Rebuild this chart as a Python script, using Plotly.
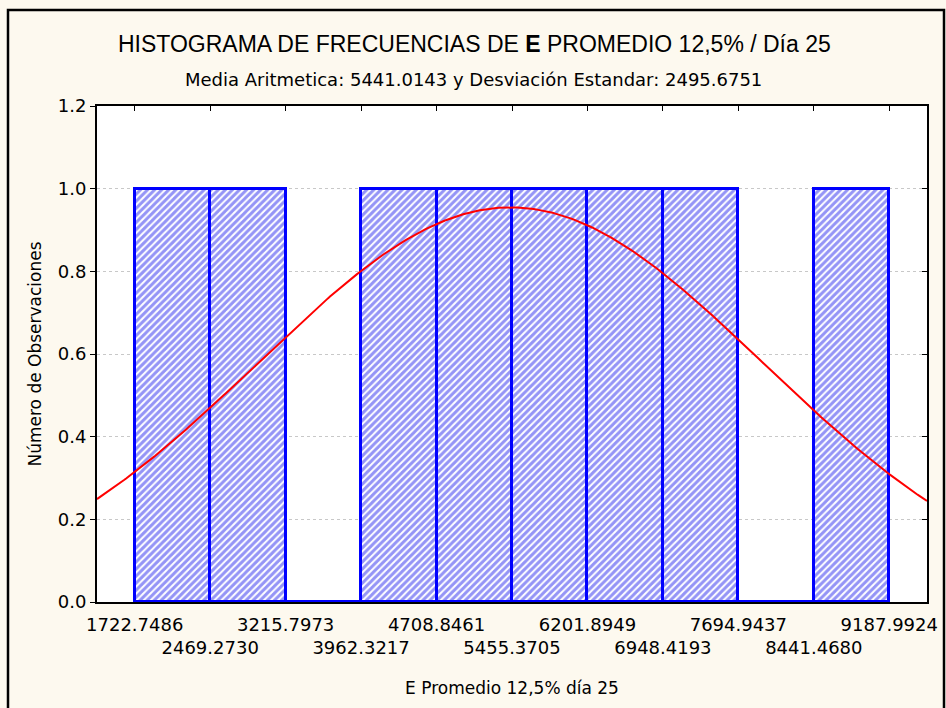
import numpy as np
import plotly.graph_objects as go

# Bin edges of the histogram (class limits shown on the x axis)
bin_edges = [1722.7486, 2469.2730, 3215.7973, 3962.3217, 4708.8461,
             5455.3705, 6201.8949, 6948.4193, 7694.9437, 8441.4680, 9187.9924]
# Observations per class
counts = [1, 1, 0, 1, 1, 1, 1, 1, 0, 1]
# Fitted normal distribution parameters
mean_value = 5441.0143
std_value = 2495.6751

tick_labels = [f"{e:.4f}" for e in bin_edges]
y_ticks = [0.0, 0.2, 0.4, 0.6, 0.8, 1.0, 1.2]

FONT = "DejaVu Sans, Arial, sans-serif"
TITLE_FONT = "Liberation Sans, Arial, sans-serif"
BG = "#FDF9EF"

edges = np.array(bin_edges)
width = float(np.mean(np.diff(edges)))
centers = (edges[:-1] + edges[1:]) / 2
n_obs = sum(counts)
x_range = [edges[0] - width / 2, edges[-1] + width / 2]

# expected frequency curve of a normal distribution scaled to the histogram
xs = np.linspace(x_range[0], x_range[1], 400)
ys = n_obs * width / (std_value * np.sqrt(2 * np.pi)) * np.exp(-0.5 * ((xs - mean_value) / std_value) ** 2)

# staggered tick labels: every second label on a lower line
ticktext = [t if i % 2 == 0 else " <br>" + t for i, t in enumerate(tick_labels)]

fig = go.Figure()
fig.add_trace(go.Bar(
    x=centers, y=counts, width=width,
    marker=dict(color="white",
                line=dict(color="#0000FF", width=3),
                pattern=dict(shape="/", fgcolor="#2A2AEE", bgcolor="white", size=5, solidity=0.6)),
    showlegend=False, hoverinfo="skip",
))
fig.add_trace(go.Scatter(
    x=xs, y=ys, mode="lines", line=dict(color="#FF0000", width=2),
    showlegend=False, hoverinfo="skip",
))
# invisible trace to activate the mirrored tick axes
fig.add_trace(go.Scatter(x=[x_range[0]], y=[0], xaxis="x2", yaxis="y2",
                         mode="markers", marker=dict(opacity=0), showlegend=False, hoverinfo="skip"))

fig.update_layout(
    width=946, height=708,
    paper_bgcolor=BG, plot_bgcolor="white",
    margin=dict(l=97, r=19, t=106, b=106),
    font=dict(family=FONT, color="black", size=18),
    bargap=0,
    xaxis=dict(range=x_range, tickmode="array", tickvals=bin_edges, ticktext=ticktext,
               tickangle=0, automargin=False, ticklabelstandoff=5,
               ticks="", showgrid=False, zeroline=False,
               showline=True, linecolor="black", linewidth=2, mirror=True,
               tickfont=dict(size=18, family=FONT),
               title=dict(text="E Promedio 12,5% día 25", font=dict(size=17, family=FONT), standoff=25)),
    yaxis=dict(range=[0, 1.2], tickmode="array", tickvals=y_ticks, tickformat=".1f",
               automargin=False,
               ticks="outside", ticklen=5, tickwidth=1, tickcolor="black",
               showgrid=True, gridcolor="#C8C8C8", griddash="dot", gridwidth=1,
               zeroline=False, showline=True, linecolor="black", linewidth=2, mirror=True,
               tickfont=dict(size=18, family=FONT),
               title=dict(text="Número de Observaciones", font=dict(size=17, family=FONT), standoff=12)),
    xaxis2=dict(overlaying="x", side="top", range=x_range, tickmode="array", tickvals=bin_edges,
                showticklabels=False, ticks="inside", ticklen=5, tickcolor="black", automargin=False,
                showgrid=False, zeroline=False, showline=False),
    yaxis2=dict(overlaying="y", side="right", range=[0, 1.2], tickmode="array", tickvals=y_ticks,
                showticklabels=False, ticks="inside", ticklen=5, tickcolor="black", automargin=False,
                showgrid=False, zeroline=False, showline=False),
    annotations=[
        dict(text="HISTOGRAMA DE FRECUENCIAS DE <b>E</b> PROMEDIO 12,5% / Día 25",
             xref="paper", yref="paper", x=(474 - 97) / 830, y=(602 - 44) / 496,
             xanchor="center", yanchor="middle", showarrow=False,
             font=dict(size=23, family=TITLE_FONT)),
        dict(text="Media Aritmetica: 5441.0143 y Desviación Estandar: 2495.6751",
             xref="paper", yref="paper", x=(473 - 97) / 830, y=(602 - 80) / 496,
             xanchor="center", yanchor="middle", showarrow=False,
             font=dict(size=18, family=FONT)),
    ],
    shapes=[
        dict(type="rect", xref="paper", yref="paper",
             x0=(8 - 97) / 830, x1=(944 - 97) / 830, y0=(602 - 720) / 496, y1=(602 - 10) / 496,
             line=dict(color="black", width=2.5), fillcolor="rgba(0,0,0,0)", layer="below"),
    ],
)

fig.write_html("out.html")
